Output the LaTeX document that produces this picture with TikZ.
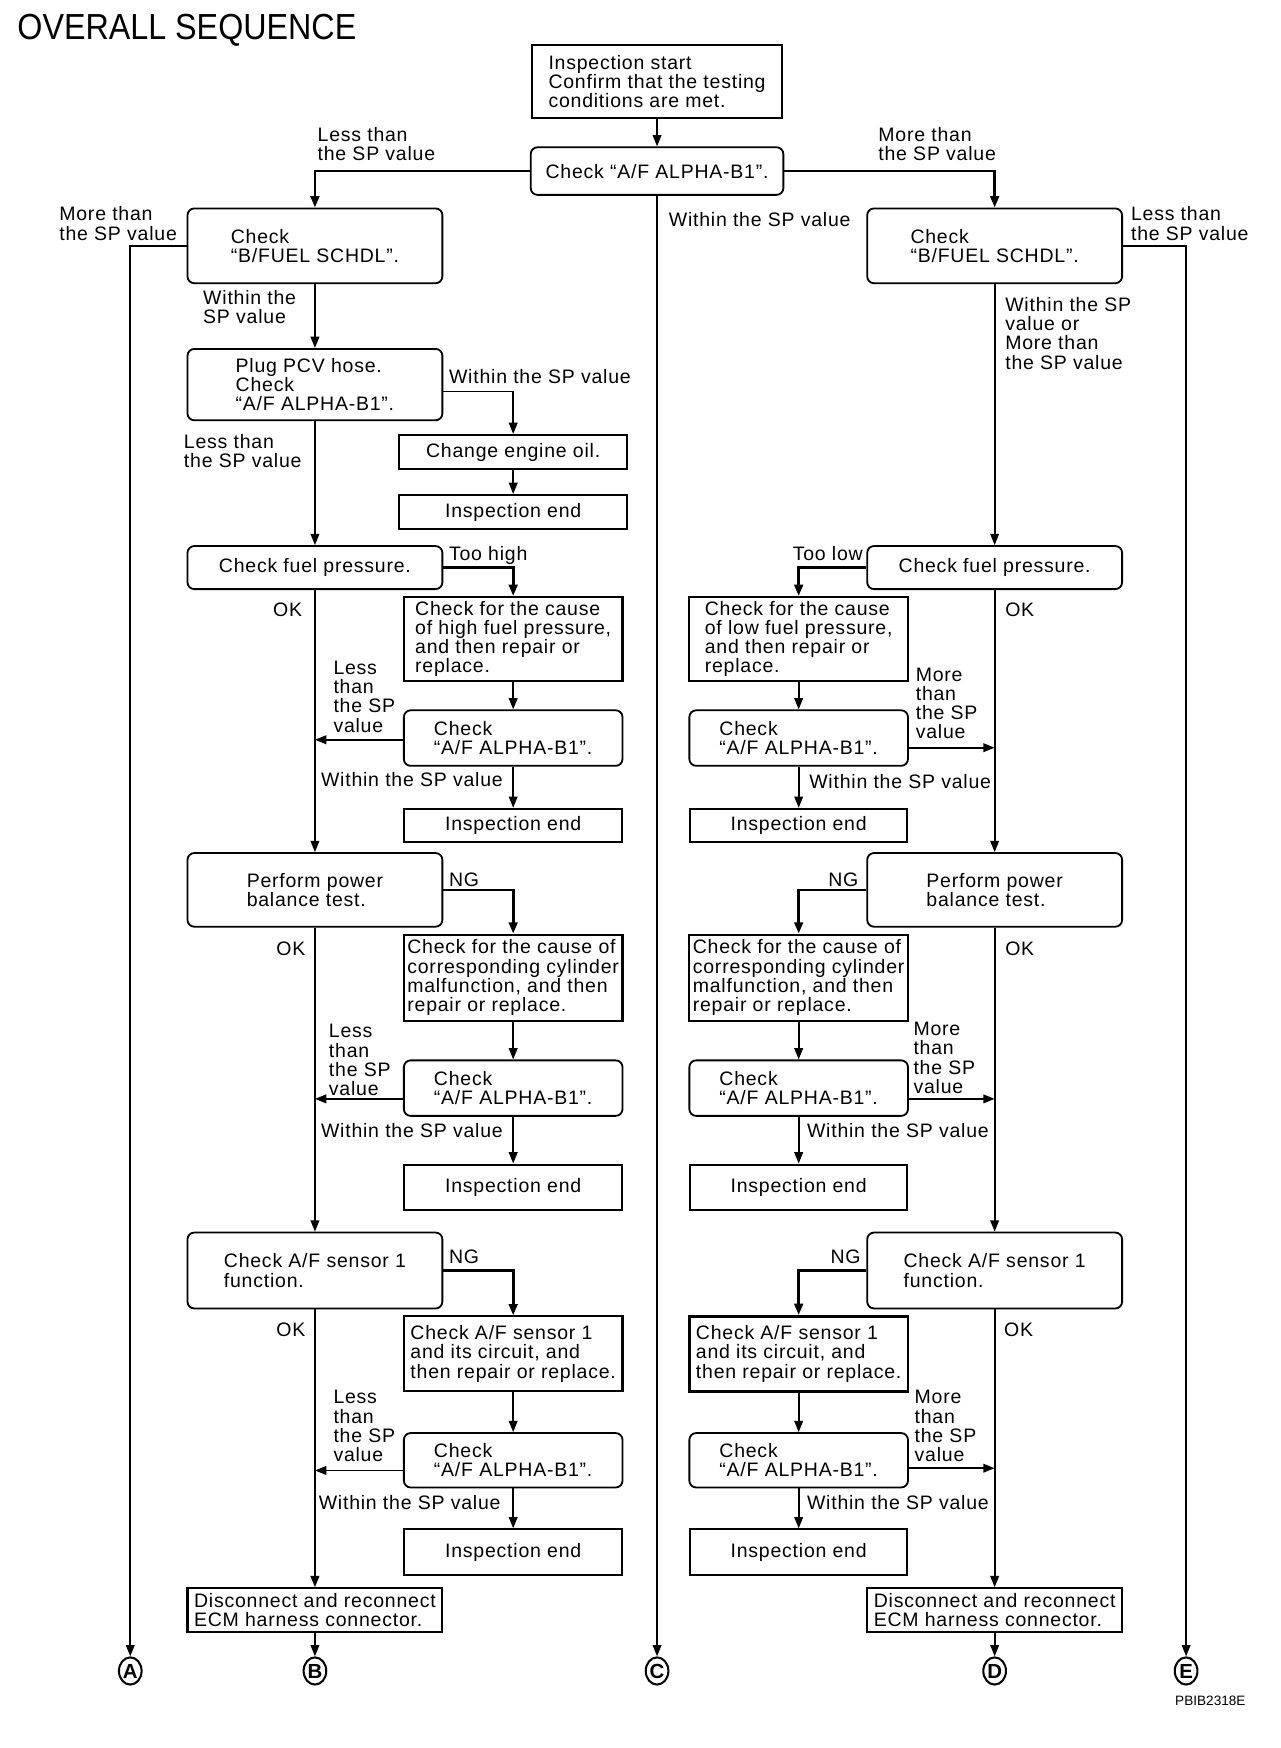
\documentclass[tikz,border=0pt]{standalone}
\usepackage{graphicx}
\usepackage{fontspec}
\setmainfont{Liberation Sans}[LetterSpace=4]
\newfontfamily\titlefont{Liberation Sans}
\usetikzlibrary{arrows.meta,shapes.geometric}

\begin{document}
\begin{tikzpicture}[x=0.5pt,y=-0.5pt,
    every node/.style={font=\fontsize{8.6pt}{8.5pt}\selectfont},
    rbox/.style={draw,rounded corners=3pt,line width=.8pt,align=left,inner sep=1pt},
    sbox/.style={draw,line width=.9pt,align=left,inner sep=1pt},
    main/.style={rbox,minimum width=112.5pt},
    side/.style={rbox,minimum width=96.5pt,minimum height=24.5pt},
    note/.style={sbox,minimum width=96.5pt},
    endbox/.style={sbox,minimum width=96pt},
    lbl/.style={align=left,inner sep=0pt,anchor=north west},
    lblr/.style={align=right,inner sep=0pt,anchor=north east},
    wire/.style={line width=.8pt,-{Triangle[length=5pt,width=3.8pt]}},
    heavy/.style={wire,line width=1.2pt},
    letter/.style={draw,ellipse,line width=.9pt,inner sep=0pt,minimum width=10pt,minimum height=12pt,font=\bfseries\fontsize{9pt}{9pt}\selectfont}]
    \useasboundingbox (0,0) rectangle (1130,1543);
    \node[anchor=north west,inner sep=0pt,font=\titlefont\fontsize{16pt}{16pt}\selectfont] (title) at (15,12) {\scalebox{0.89}[1]{OVERALL SEQUENCE}};
    \node[sbox,minimum width=110pt,minimum height=32pt] (start) at (580,72) {Inspection start\\Confirm that the testing\\conditions are met.};
    \node[rbox,minimum width=111.5pt,minimum height=21pt] (chk) at (580,151) {Check “A/F ALPHA-B1”.};
    \node[main,minimum height=33pt] (bfl) at (278,217) {Check\\“B/FUEL SCHDL”.};
    \node[main,minimum height=33pt] (bfr) at (878,217) {Check\\“B/FUEL SCHDL”.};
    \node[main,minimum height=31.5pt] (pcv) at (278,339.5) {Plug PCV hose.\\Check\\“A/F ALPHA-B1”.};
    \node[sbox,minimum width=100.5pt,minimum height=15pt] (oil) at (453,399) {Change engine oil.};
    \node[sbox,minimum width=100.5pt,minimum height=15pt] (endoil) at (453,452) {Inspection end};
    \node[main,minimum height=19pt] (fpl) at (278,501) {Check fuel pressure.};
    \node[main,minimum height=19pt] (fpr) at (878,501) {Check fuel pressure.};
    \node[note,minimum height=37pt] (hfl) at (453,564) {Check for the cause\\of high fuel pressure,\\and then repair or\\replace.};
    \node[note,minimum height=37pt] (lfr) at (705,564) {Check for the cause\\of low fuel pressure,\\and then repair or\\replace.};
    \node[side] (cl1) at (453,651.5) {Check\\“A/F ALPHA-B1”.};
    \node[side] (cr1) at (705,651.5) {Check\\“A/F ALPHA-B1”.};
    \node[endbox,minimum height=14.5pt] (el1) at (453,728.5) {Inspection end};
    \node[endbox,minimum height=14.5pt] (er1) at (705,728.5) {Inspection end};
    \node[main,minimum height=32.5pt] (ppl) at (278,785.5) {Perform power\\balance test.};
    \node[main,minimum height=32.5pt] (ppr) at (878,785.5) {Perform power\\balance test.};
    \node[note,minimum height=38pt] (cyl) at (453,863) {Check for the cause of\\corresponding cylinder\\malfunction, and then\\repair or replace.};
    \node[note,minimum height=38pt] (cyr) at (705,863) {Check for the cause of\\corresponding cylinder\\malfunction, and then\\repair or replace.};
    \node[side] (cl2) at (453,960.5) {Check\\“A/F ALPHA-B1”.};
    \node[side] (cr2) at (705,960.5) {Check\\“A/F ALPHA-B1”.};
    \node[endbox,minimum height=20pt] (el2) at (453,1048) {Inspection end};
    \node[endbox,minimum height=20pt] (er2) at (705,1048) {Inspection end};
    \node[main,minimum height=33.5pt] (sfl) at (278,1121.5) {Check A/F sensor 1\\function.};
    \node[main,minimum height=33.5pt] (sfr) at (878,1121.5) {Check A/F sensor 1\\function.};
    \node[note,minimum height=33pt] (scl) at (453,1195) {Check A/F sensor 1\\and its circuit, and\\then repair or replace.};
    \node[note,minimum height=33pt,line width=1.2pt] (scr) at (705,1195) {Check A/F sensor 1\\and its circuit, and\\then repair or replace.};
    \node[side,minimum height=24pt] (cl3) at (453,1289) {Check\\“A/F ALPHA-B1”.};
    \node[side,minimum height=24pt] (cr3) at (705,1289) {Check\\“A/F ALPHA-B1”.};
    \node[endbox,minimum height=20pt] (el3) at (453,1370) {Inspection end};
    \node[endbox,minimum height=20pt] (er3) at (705,1370) {Inspection end};
    \node[sbox,minimum width=112.5pt,minimum height=19.5pt] (dcl) at (278,1421.5) {Disconnect and reconnect\\ECM harness connector.};
    \node[sbox,minimum width=112.5pt,minimum height=19.5pt] (dcr) at (878,1421.5) {Disconnect and reconnect\\ECM harness connector.};
    \foreach \l/\x in {A/115,B/278,C/580,D/878,E/1047}
        \node[letter] (\l) at (\x,1475) {\l};
    \coordinate (jl1) at (278,653);
    \coordinate (jl2) at (278,970);
    \coordinate (jl3) at (278,1298);
    \coordinate (jr1) at (878,660);
    \coordinate (jr2) at (878,970);
    \coordinate (jr3) at (878,1296);
    \node[lbl] (lchk) at (280,112) {Less than\\the SP value};
    \node[lbl] (mchk) at (775,112) {More than\\the SP value};
    \node[lbl] (wchk) at (590,187) {Within the SP value};
    \node[lbl] (mbfl) at (52,182) {More than\\the SP value};
    \node[lbl] (lbfr) at (998,182) {Less than\\the SP value};
    \node[lbl] (wbfl) at (179,256) {Within the\\SP value};
    \node[lbl] (wbfr) at (887,262) {Within the SP\\value or\\More than\\the SP value};
    \node[lbl] (wpcv) at (396,326) {Within the SP value};
    \node[lbl] (lpcv) at (162,383) {Less than\\the SP value};
    \node[lbl] (hifpl) at (396,482) {Too high};
    \node[lblr] (lofpr) at (762,482) {Too low};
    \node[lblr] (okfpl) at (267,532) {OK};
    \node[lbl] (okfpr) at (887,532) {OK};
    \node[lbl] (lcl1) at (294,583) {Less\\than\\the SP\\value};
    \node[lbl] (mcr1) at (808,589) {More\\than\\the SP\\value};
    \node[lbl] (wcl1) at (283,681) {Within the SP value};
    \node[lbl] (wcr1) at (714,683) {Within the SP value};
    \node[lbl] (ngppl) at (396,770) {NG};
    \node[lblr] (ngppr) at (758,770) {NG};
    \node[lblr] (okppl) at (270,831) {OK};
    \node[lbl] (okppr) at (887,831) {OK};
    \node[lbl] (lcl2) at (290,904) {Less\\than\\the SP\\value};
    \node[lbl] (mcr2) at (806,902) {More\\than\\the SP\\value};
    \node[lbl] (wcl2) at (283,991) {Within the SP value};
    \node[lbl] (wcr2) at (712,991) {Within the SP value};
    \node[lbl] (ngsfl) at (396,1103) {NG};
    \node[lblr] (ngsfr) at (760,1103) {NG};
    \node[lblr] (oksfl) at (270,1167) {OK};
    \node[lbl] (oksfr) at (886,1167) {OK};
    \node[lbl] (lcl3) at (294,1227) {Less\\than\\the SP\\value};
    \node[lbl] (mcr3) at (807,1227) {More\\than\\the SP\\value};
    \node[lbl] (wcl3) at (281,1320) {Within the SP value};
    \node[lbl] (wcr3) at (712,1320) {Within the SP value};
    \node[anchor=north west,inner sep=0pt,font=\titlefont\fontsize{6pt}{6pt}\selectfont] (code) at (1037,1497) {PBIB2318E};
    \draw[wire] (start) -- (chk);
    \draw[heavy] (chk) -| (bfl);
    \draw[heavy] (chk) -| (bfr);
    \draw[wire] (chk) -- (C);
    \draw[wire] (bfl) -| (A);
    \draw[wire] (bfr) -| (E);
    \draw[wire] (bfl) -- (pcv);
    \draw[wire] ([yshift=-3pt]pcv.east) -| (oil);
    \draw[wire] (oil) -- (endoil);
    \draw[wire] (pcv) -- (fpl);
    \draw[heavy] (fpl) -| (hfl);
    \draw[wire] (hfl) -- (cl1);
    \draw[wire] (cl1.west |- jl1) -- (jl1);
    \draw[wire] (cl1) -- (el1);
    \draw[wire] (fpl) -- (ppl);
    \draw[heavy] (ppl) -| (cyl);
    \draw[wire] (cyl) -- (cl2);
    \draw[wire] (cl2.west |- jl2) -- (jl2);
    \draw[wire] (cl2) -- (el2);
    \draw[wire] (ppl) -- (sfl);
    \draw[heavy] (sfl) -| (scl);
    \draw[wire] (scl) -- (cl3);
    \draw[wire] (cl3.west |- jl3) -- (jl3);
    \draw[wire] (cl3) -- (el3);
    \draw[wire] (sfl) -- (dcl);
    \draw[wire] (dcl) -- (B);
    \draw[wire] (bfr) -- (fpr);
    \draw[heavy] (fpr) -| (lfr);
    \draw[wire] (lfr) -- (cr1);
    \draw[wire] (cr1.east |- jr1) -- (jr1);
    \draw[wire] (cr1) -- (er1);
    \draw[wire] (fpr) -- (ppr);
    \draw[heavy] (ppr) -| (cyr);
    \draw[wire] (cyr) -- (cr2);
    \draw[wire] (cr2.east |- jr2) -- (jr2);
    \draw[wire] (cr2) -- (er2);
    \draw[wire] (ppr) -- (sfr);
    \draw[heavy] (sfr) -| (scr);
    \draw[wire] (scr) -- (cr3);
    \draw[wire] (cr3.east |- jr3) -- (jr3);
    \draw[wire] (cr3) -- (er3);
    \draw[wire] (sfr) -- (dcr);
    \draw[wire] (dcr) -- (D);
\end{tikzpicture}
\end{document}
